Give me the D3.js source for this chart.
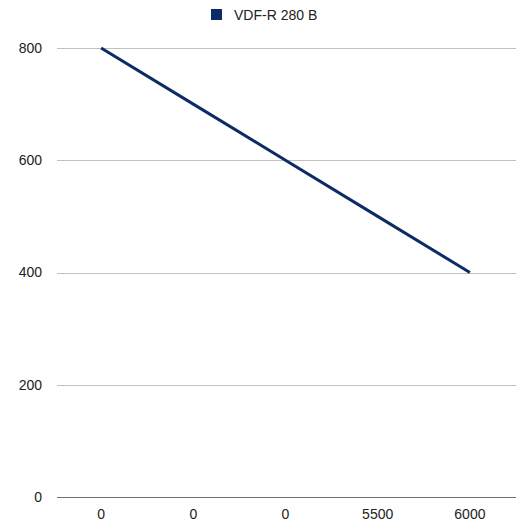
<!DOCTYPE html>
<html><head><meta charset="utf-8">
<script src="https://cdn.jsdelivr.net/npm/d3@7"></script>
<style>body{margin:0;background:#fff;} text{font-family:"Liberation Sans",Arial,sans-serif;}</style>
</head><body>
<svg id="c" width="520" height="529"></svg>
<script>
const categories = ["0","0","0","5500","6000"];
const values = [800, 700, 600, 500, 400];
const seriesName = "VDF-R 280 B";
const yTicks = [0, 200, 400, 600, 800];

(function () {
const svg = d3.select("#c");
const mLeft = 55, mRight = 516, mTop = 48, mBottom = 497;
const x = d3.scaleBand().domain(d3.range(categories.length)).range([mLeft, mRight]);
const y = d3.scaleLinear().domain([0, 800]).range([mBottom, mTop]);
const color = "#0c2d64";

// grid
svg.append("g").selectAll("line").data(yTicks).join("line")
  .attr("x1", 57).attr("x2", mRight)
  .attr("y1", d => Math.round(y(d)) + 0.5).attr("y2", d => Math.round(y(d)) + 0.5)
  .attr("stroke", d => d === 0 ? "#707070" : "#c0c0c0").attr("stroke-width", 1);

// y labels
svg.append("g").selectAll("text").data(yTicks).join("text")
  .attr("x", 42).attr("y", d => y(d)).attr("dy", "0.35em")
  .attr("text-anchor", "end").attr("font-size", 14).attr("fill", "#222")
  .text(d => d);

// x labels
svg.append("g").selectAll("text").data(categories).join("text")
  .attr("x", (d, i) => x(i) + x.bandwidth() / 2).attr("y", 519)
  .attr("text-anchor", "middle").attr("font-size", 14).attr("fill", "#222")
  .text(d => d);

// line
const line = d3.line().x((d, i) => x(i) + x.bandwidth() / 2).y(d => y(d));
svg.append("path").datum(values).attr("d", line)
  .attr("fill", "none").attr("stroke", color).attr("stroke-width", 3);

// legend
svg.append("rect").attr("x", 211).attr("y", 9).attr("width", 11).attr("height", 11).attr("fill", color);
svg.append("text").attr("x", 234).attr("y", 19.5).attr("font-size", 14).attr("fill", "#222").text(seriesName);
})();
</script>
</body></html>
